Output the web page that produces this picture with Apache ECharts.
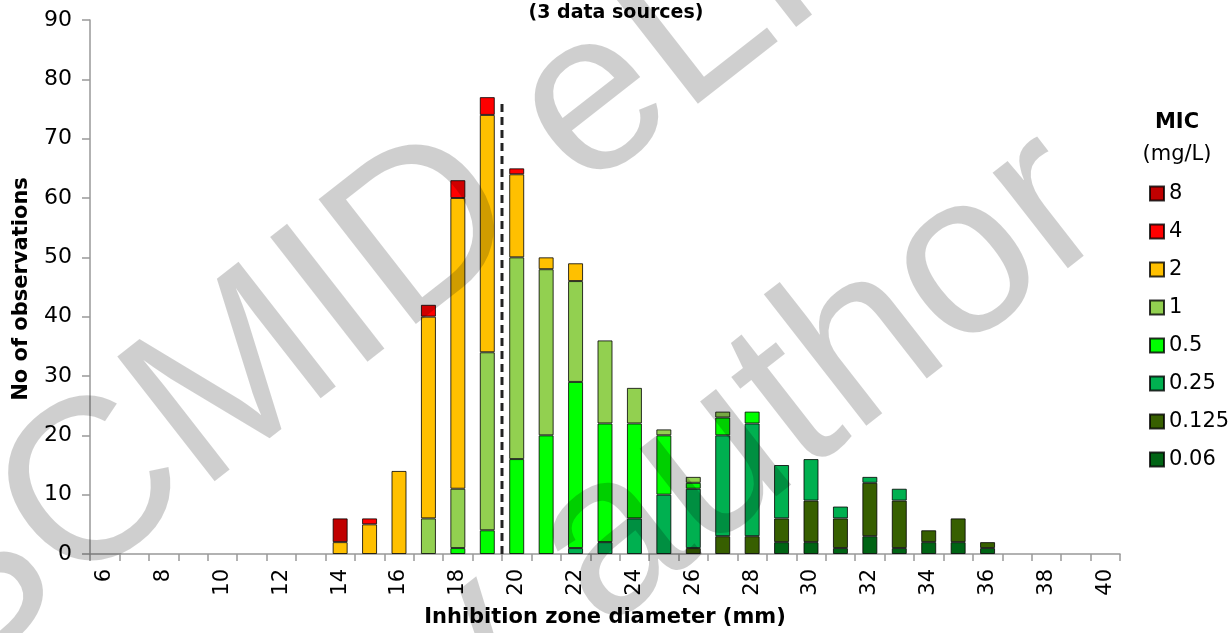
<!DOCTYPE html>
<html>
<head>
<meta charset="utf-8">
<script src="https://cdn.jsdelivr.net/npm/echarts@6/dist/echarts.min.js"></script>
<style>
  html, body { margin: 0; padding: 0; background: #fff; }
  #chart { width: 1232px; height: 633px; }
</style>
</head>
<body>
<div id="chart"></div>
<script>
// ---- Data ----
const categories = ['6','7','8','9','10','11','12','13','14','15','16','17','18','19','20','21','22','23','24','25','26','27','28','29','30','31','32','33','34','35','36','37','38','39','40'];
const micLabels = ['0.06','0.125','0.25','0.5','1','2','4','8'];
//                 6 7 8 9 10 11 12 13 | 14 15 16 17 18 19 20 21 22 23 24 25 26 27 28 29 30 31 32 33 34 35 36 | 37 38 39 40
const mic006  = [0,0,0,0,0,0,0,0,  0, 0, 0, 0, 0, 0, 0, 0, 0, 0, 0, 0, 0, 0, 0, 2, 2, 1, 3, 1, 2, 2, 1,  0,0,0,0];
const mic0125 = [0,0,0,0,0,0,0,0,  0, 0, 0, 0, 0, 0, 0, 0, 0, 0, 0, 0, 1, 3, 3, 4, 7, 5, 9, 8, 2, 4, 1,  0,0,0,0];
const mic025  = [0,0,0,0,0,0,0,0,  0, 0, 0, 0, 0, 0, 0, 0, 1, 2, 6,10,10,17,19, 9, 7, 2, 1, 2, 0, 0, 0,  0,0,0,0];
const mic05   = [0,0,0,0,0,0,0,0,  0, 0, 0, 0, 1, 4,16,20,28,20,16,10, 1, 3, 2, 0, 0, 0, 0, 0, 0, 0, 0,  0,0,0,0];
const mic1    = [0,0,0,0,0,0,0,0,  0, 0, 0, 6,10,30,34,28,17,14, 6, 1, 1, 1, 0, 0, 0, 0, 0, 0, 0, 0, 0,  0,0,0,0];
const mic2    = [0,0,0,0,0,0,0,0,  2, 5,14,34,49,40,14, 2, 3, 0, 0, 0, 0, 0, 0, 0, 0, 0, 0, 0, 0, 0, 0,  0,0,0,0];
const mic4    = [0,0,0,0,0,0,0,0,  0, 1, 0, 2, 3, 3, 1, 0, 0, 0, 0, 0, 0, 0, 0, 0, 0, 0, 0, 0, 0, 0, 0,  0,0,0,0];
const mic8    = [0,0,0,0,0,0,0,0,  4, 0, 0, 0, 0, 0, 0, 0, 0, 0, 0, 0, 0, 0, 0, 0, 0, 0, 0, 0, 0, 0, 0,  0,0,0,0];
const seriesValues = [mic006, mic0125, mic025, mic05, mic1, mic2, mic4, mic8];
const colors = ['#006414','#375f00','#00b050','#00ff00','#92d050','#ffc000','#ff0000','#c00000'];
const breakpointX = 19.5;   // dashed breakpoint line position (mm)
const breakpointTop = 76;   // top of dashed line (observations)
const yTicks = { min: 0, max: 90, interval: 10 };

// ---- Chart ----
const FONT = '"DejaVu Sans", sans-serif';
const chart = echarts.init(document.getElementById('chart'), null, { renderer: 'canvas' });

const barSeries = micLabels.map((name, i) => ({
  name: name,
  type: 'bar',
  stack: 'mic',
  barWidth: 15,
  xAxisIndex: 0,
  yAxisIndex: 0,
  itemStyle: { color: colors[i], borderColor: 'rgba(0,0,0,0.8)', borderWidth: 1 },
  emphasis: { disabled: true },
  data: seriesValues[i].map(v => (v === 0 ? '-' : v))
}));

const wmStyle = { fill: 'rgba(0,0,0,0.19)', font: '230px "Liberation Sans", Arial, sans-serif', align: 'left', verticalAlign: 'middle' };
const rot = 38 * Math.PI / 180;

chart.setOption({
  animation: false,
  backgroundColor: '#fff',
  title: {
    text: '(3 data sources)',
    left: 'center',
    top: 4,
    padding: 0,
    textStyle: { fontFamily: FONT, fontSize: 19, fontWeight: 'bold', color: '#000' }
  },
  grid: { left: 90, right: 112, top: 20, bottom: 75, containLabel: false },
  legend: {
    orient: 'vertical',
    left: 1149,
    top: 183,
    padding: 0,
    itemWidth: 14,
    itemHeight: 14,
    itemGap: 17,
    icon: 'rect',
    data: micLabels.slice().reverse(),
    textStyle: { fontFamily: FONT, fontSize: 21, color: '#000', lineHeight: 21 },
    selectedMode: false
  },
  xAxis: [{
    type: 'category',
    data: categories,
    boundaryGap: true,
    axisLine: { lineStyle: { color: '#999', width: 1.5 } },
    axisTick: { show: true, interval: 0, length: 7, lineStyle: { color: '#999', width: 1.5 } },
    axisLabel: { interval: 1, rotate: 90, margin: 15, fontFamily: FONT, fontSize: 21, color: '#000' },
    name: 'Inhibition zone diameter (mm)',
    nameLocation: 'middle',
    nameGap: 53,
    nameTextStyle: { fontFamily: FONT, fontSize: 21, fontWeight: 'bold', color: '#000' }
  }, {
    type: 'value',
    min: 5.5,
    max: 40.5,
    show: false
  }],
  yAxis: {
    type: 'value',
    min: yTicks.min,
    max: yTicks.max,
    interval: yTicks.interval,
    splitLine: { show: false },
    axisLine: { show: true, lineStyle: { color: '#999', width: 1.5 } },
    axisTick: { show: true, length: 8, lineStyle: { color: '#999', width: 1.5 } },
    axisLabel: { margin: 18, fontFamily: FONT, fontSize: 22, color: '#000' }
  },
  series: barSeries.concat([{
    type: 'line',
    xAxisIndex: 1,
    yAxisIndex: 0,
    symbol: 'none',
    silent: true,
    z: 5,
    lineStyle: { color: '#222', width: 3, type: [8, 5] },
    data: [[breakpointX, 0], [breakpointX, breakpointTop]]
  }]),
  graphic: [
    { type: 'text', x: 22, y: 289, rotation: Math.PI / 2, silent: true,
      style: { text: 'No of observations', font: 'bold 21px ' + FONT, fill: '#000', align: 'center', verticalAlign: 'middle' } },
    { type: 'text', x: 1177, y: 123, silent: true,
      style: { text: 'MIC', font: 'bold 21px ' + FONT, fill: '#000', align: 'center', verticalAlign: 'middle' } },
    { type: 'text', x: 1177, y: 155, silent: true,
      style: { text: '(mg/L)', font: '21px ' + FONT, fill: '#000', align: 'center', verticalAlign: 'middle' } },
    { type: 'text', x: -212, y: 734, rotation: rot, z: 100, silent: true,
      style: Object.assign({ text: 'ESCMID eLibrary' }, wmStyle) },
    { type: 'text', x: 137, y: 915, rotation: rot, z: 100, silent: true,
      style: Object.assign({ text: '\u00A9 by author' }, wmStyle) }
  ]
});
</script>
</body>
</html>
